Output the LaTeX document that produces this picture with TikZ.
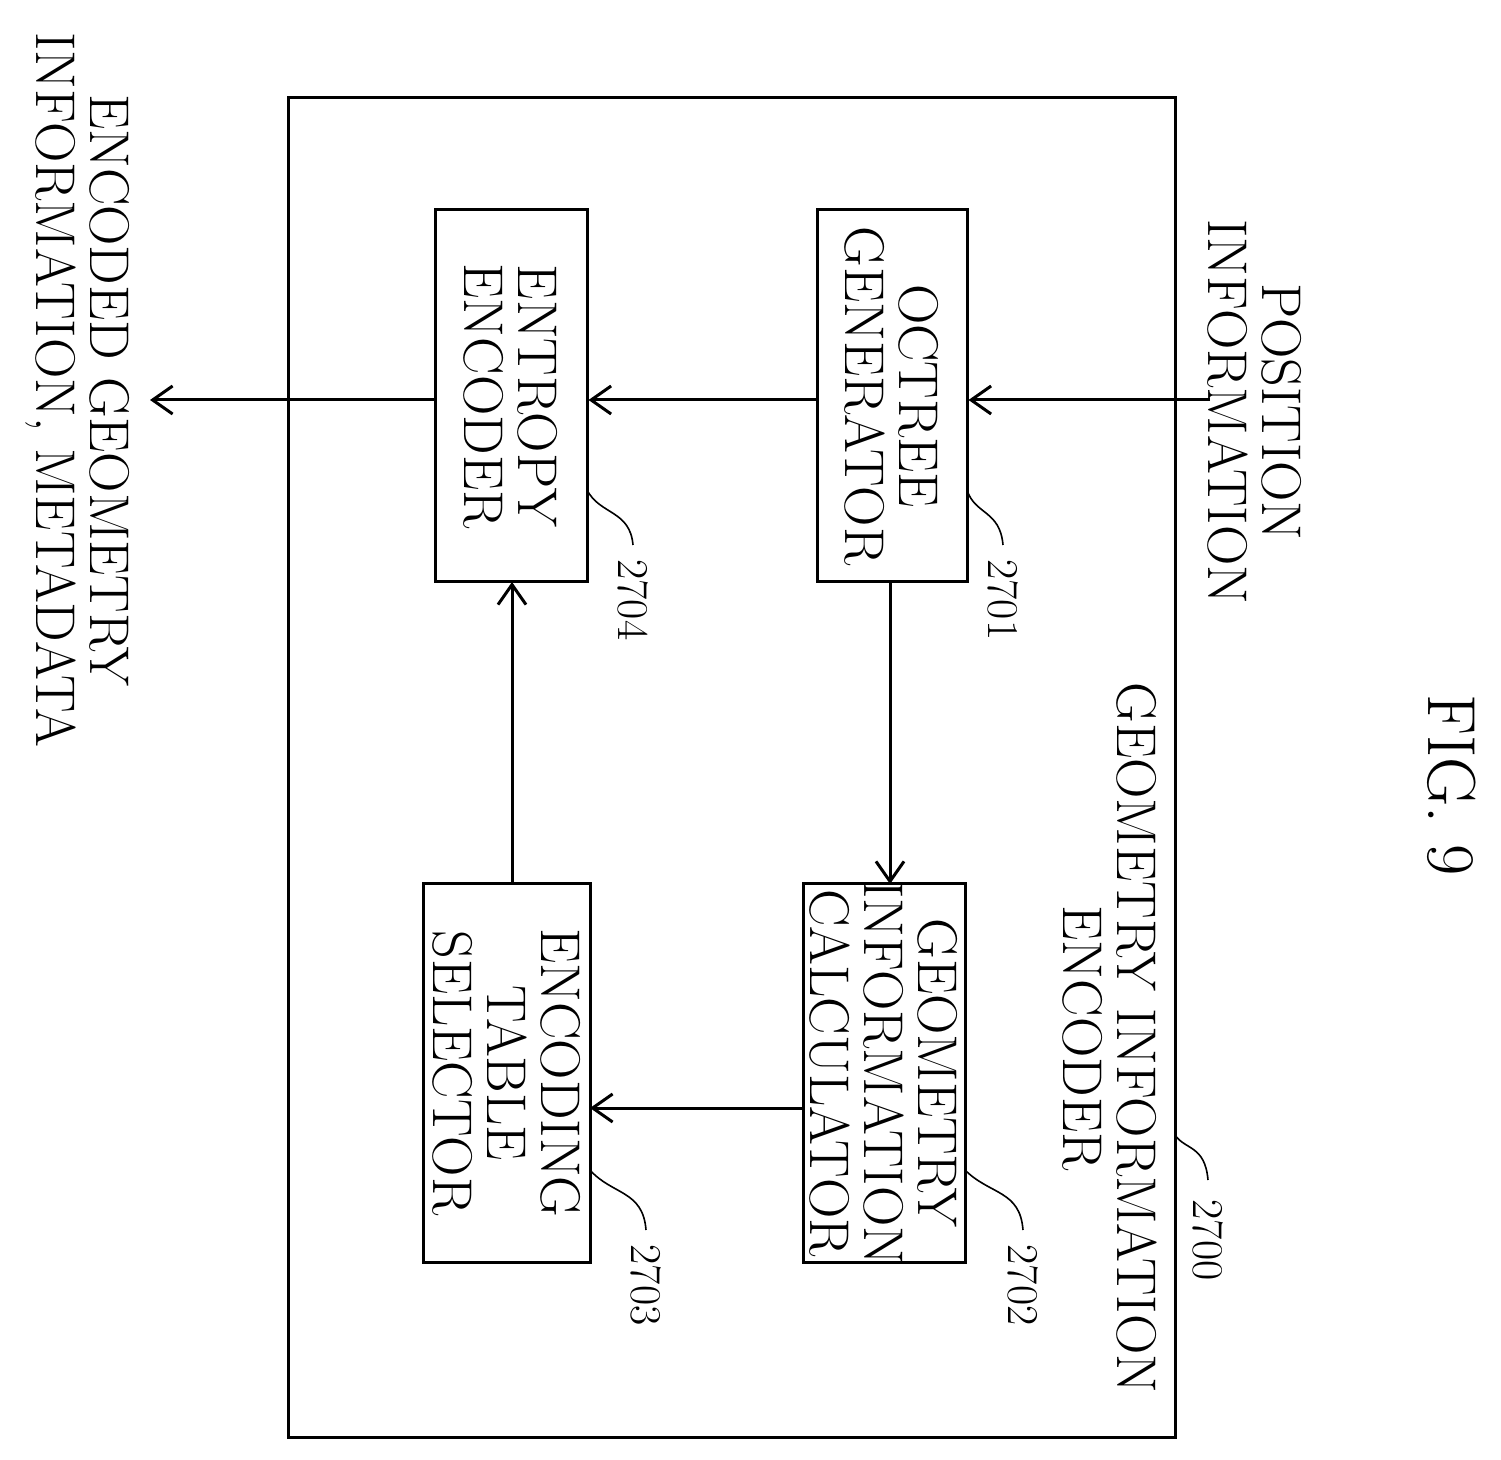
\documentclass[tikz,border=0pt]{standalone}
\usetikzlibrary{arrows.meta}
\begin{document}
\begin{tikzpicture}[x=0.5pt,y=-0.5pt,
  lw/.style={line width=1.5pt},
  blk/.style={draw,lw,rotate=-90},
  txt/.style={rotate=-90,align=center,font=\fontsize{28}{27}\selectfont},
  num/.style={rotate=-90,font=\fontsize{22}{22}\selectfont},
  arr/.style={lw,-{Straight Barb[length=10pt,width=14pt]}}]
\useasboundingbox (0,0) rectangle (1501,1460);
\draw[lw] (288,98) rectangle (1175,1437);
\node[blk,minimum width=186pt,minimum height=75pt] (oct) at (892,396) {};
\node[txt] at (892,396) {OCTREE\\GENERATOR};
\node[blk,minimum width=186pt,minimum height=76pt] (ent) at (511,396) {};
\node[txt] at (511,396) {ENTROPY\\ENCODER};
\node[blk,minimum width=189.5pt,minimum height=81pt] (calc) at (884,1073) {};
\node[txt] at (884,1073) {GEOMETRY\\INFORMATION\\CALCULATOR};
\node[blk,minimum width=189.5pt,minimum height=83.5pt] (sel) at (506.5,1073) {};
\node[txt] at (506.5,1073) {ENCODING\\TABLE\\SELECTOR};
\node[txt] (pos) at (1255,412) {POSITION\\INFORMATION};
\node[txt] (gie) at (1110,1038) {GEOMETRY INFORMATION\\ENCODER};
\node[txt,font=\fontsize{34}{34}\selectfont] (fig) at (1452,785) {FIG. 9};
\node[txt] (out) at (78,390) {ENCODED GEOMETRY\\INFORMATION, METADATA};
\coordinate (pin) at (1210,400);
\coordinate (pout) at (150,400);
\draw[arr] (pin) -- (oct.north|-pin);
\draw[arr] (oct.south|-pin) -- (ent.north|-pin);
\draw[arr] (ent.south|-pin) -- (pout);
\draw[arr] (890,582) -- (890,884);
\draw[arr] (803,1108) -- (590,1108);
\draw[arr] (512,884) -- (512,582);
\node[num] (n1) at (1003,600) {2701};
\node[num] (n4) at (633,600) {2704};
\node[num] (n2) at (1023,1285) {2702};
\node[num] (n3) at (646,1285) {2703};
\node[num] (n0) at (1208,1240) {2700};
\draw[line width=0.8pt] (1003,545) .. controls (1000,510) and (975,515) .. (967,490);
\draw[line width=0.8pt] (633,545) .. controls (630,510) and (600,515) .. (587,490);
\draw[line width=0.8pt] (1023,1230) .. controls (1020,1190) and (990,1195) .. (965,1170);
\draw[line width=0.8pt] (646,1230) .. controls (643,1190) and (612,1195) .. (590,1170);
\draw[line width=0.8pt] (1208,1180) .. controls (1205,1145) and (1185,1150) .. (1175,1135);
\end{tikzpicture}
\end{document}
